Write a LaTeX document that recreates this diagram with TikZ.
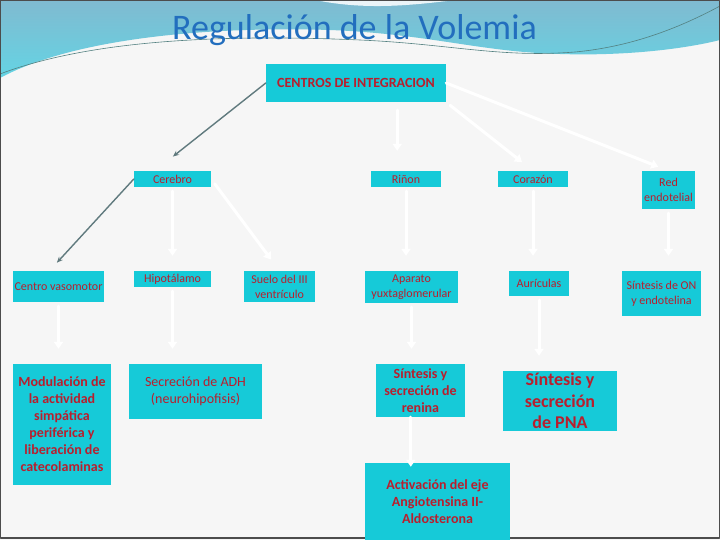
\documentclass[tikz,border=0pt]{standalone}
\usepackage{fontspec}
\setmainfont{Carlito}
\usetikzlibrary{arrows.meta}

\begin{document}
\begin{tikzpicture}[x=1pt, y=-1pt, line cap=round, line join=round,
  box/.style={fill=boxcyan, text=boxred, align=center, inner sep=0pt,
    font=\fontsize{12}{15}\selectfont},
  boldbox/.style={box, font=\fontsize{14}{17}\selectfont\bfseries},
  whitearrow/.style={draw=white, line width=3pt, -{Triangle[length=7pt,width=9pt]}},
  greyarrow/.style={draw=arrowgrey, line width=1.4pt, -{Stealth[length=6pt,width=5pt]}}]
  \definecolor{boxcyan}{RGB}{22,202,216}
  \definecolor{boxred}{RGB}{185,30,45}
  \definecolor{titleblue}{RGB}{34,110,190}
  \definecolor{arrowgrey}{RGB}{96,122,126}
  \definecolor{headtop}{RGB}{128,186,208}
  \definecolor{headbot}{RGB}{100,212,228}
  \definecolor{slidebg}{RGB}{246,246,246}
  \useasboundingbox (0,0) rectangle (720,540);
  \fill[slidebg] (0,0) rectangle (720,540);
  \shade[top color=headtop, bottom color=headbot] (0,0) -- (720,0) -- (720,40)
    .. controls (680,50) and (620,56) .. (560,54)
    .. controls (480,52) and (430,34) .. (330,30)
    .. controls (200,26) and (70,40) .. (0,78) -- cycle;
  \fill[white, opacity=0.85] (315,0) .. controls (360,9) and (400,7) .. (455,0) -- cycle;
  \draw[teal!35!gray, line width=0.6pt] (0,74) .. controls (90,40) and (220,34) .. (360,40)
    .. controls (450,44) and (500,58) .. (575,52) .. controls (640,46) and (690,22) .. (720,6);
  \draw[gray!60!black, line width=1.2pt] (0.6,0.6) rectangle (719.4,538);
  \node[font=\fontsize{36}{43}\selectfont, text=titleblue, anchor=base] (title) at (354.5,40) {Regulación de la Volemia};
  \node[box, font=\fontsize{14}{17}\selectfont\bfseries, minimum width=180pt, minimum height=38pt] (centros) at (356,83) {CENTROS DE INTEGRACION};
  \node[box, minimum width=77pt, minimum height=16pt] (cerebro) at (172.5,179) {Cerebro};
  \node[box, minimum width=70pt, minimum height=16pt] (rinon) at (406,179) {Riñon};
  \node[box, minimum width=70pt, minimum height=16pt] (corazon) at (533,179) {Corazón};
  \node[box, minimum width=53pt, minimum height=38pt] (red) at (668.5,190) {Red\\endotelial};
  \node[box, minimum width=91pt, minimum height=31pt] (vasomotor) at (58.5,286.5) {Centro vasomotor};
  \node[box, minimum width=77pt, minimum height=16pt] (hipot) at (172.5,279) {Hipotálamo};
  \node[box, minimum width=71pt, minimum height=31pt] (suelo) at (279.5,286.5) {Suelo del III\\ventrículo};
  \node[box, minimum width=93pt, minimum height=32pt] (aparato) at (411.5,287) {Aparato\\yuxtaglomerular};
  \node[box, minimum width=60pt, minimum height=25pt] (auric) at (539,283.5) {Aurículas};
  \node[box, minimum width=79pt, minimum height=45pt] (sinton) at (661.5,293.5) {Síntesis de ON\\y endotelina};
  \node[boldbox, minimum width=98pt, minimum height=121pt] (modul) at (62,424.5) {Modulación de\\la actividad\\simpática\\periférica y\\liberación de\\catecolaminas};
  \node[box, font=\fontsize{14}{17}\selectfont, minimum width=133pt, minimum height=55pt] (adh) at (195.5,391.5) {Secreción de ADH\\(neurohipofisis)};
  \node[boldbox, minimum width=89pt, minimum height=53pt] (renina) at (420.5,390.5) {Síntesis y\\secreción de\\renina};
  \node[box, font=\fontsize{18}{21.5}\selectfont\bfseries, minimum width=114pt, minimum height=60pt] (pna) at (560,401) {Síntesis y\\secreción\\de PNA};
  \node[boldbox, minimum width=145pt, minimum height=77pt] (activ) at (437.5,501.5) {Activación del eje\\Angiotensina II-\\Aldosterona};
  \draw[greyarrow, shorten >=23pt] (centros.west) -- (cerebro.155);
  \draw[greyarrow, shorten >=11pt] (cerebro.west) -- (vasomotor.120);
  \draw[whitearrow, shorten <=8pt, shorten >=20pt] (centros.-25) -- (centros.-25 |- rinon.north);
  \draw[whitearrow, shorten <=5pt, shorten >=14pt] (centros.south east) -- (corazon.north);
  \draw[whitearrow, shorten >=11pt] (centros.east) -- (red.north);
  \draw[whitearrow, shorten <=6pt, shorten >=14pt] (cerebro.east) -- (suelo.north);
  \foreach \a/\b in {cerebro/hipot, rinon/aparato, corazon/auric, red/sinton,
                     vasomotor/modul, hipot/adh, aparato/renina, auric/pna}
    \draw[whitearrow, shorten <=4pt, shorten >=15pt] (\a.south) -- (\a.south |- \b.north);
  \draw[whitearrow, shorten >=-4pt] (renina.-110) -- (renina.-110 |- activ.north);
\end{tikzpicture}
\end{document}
